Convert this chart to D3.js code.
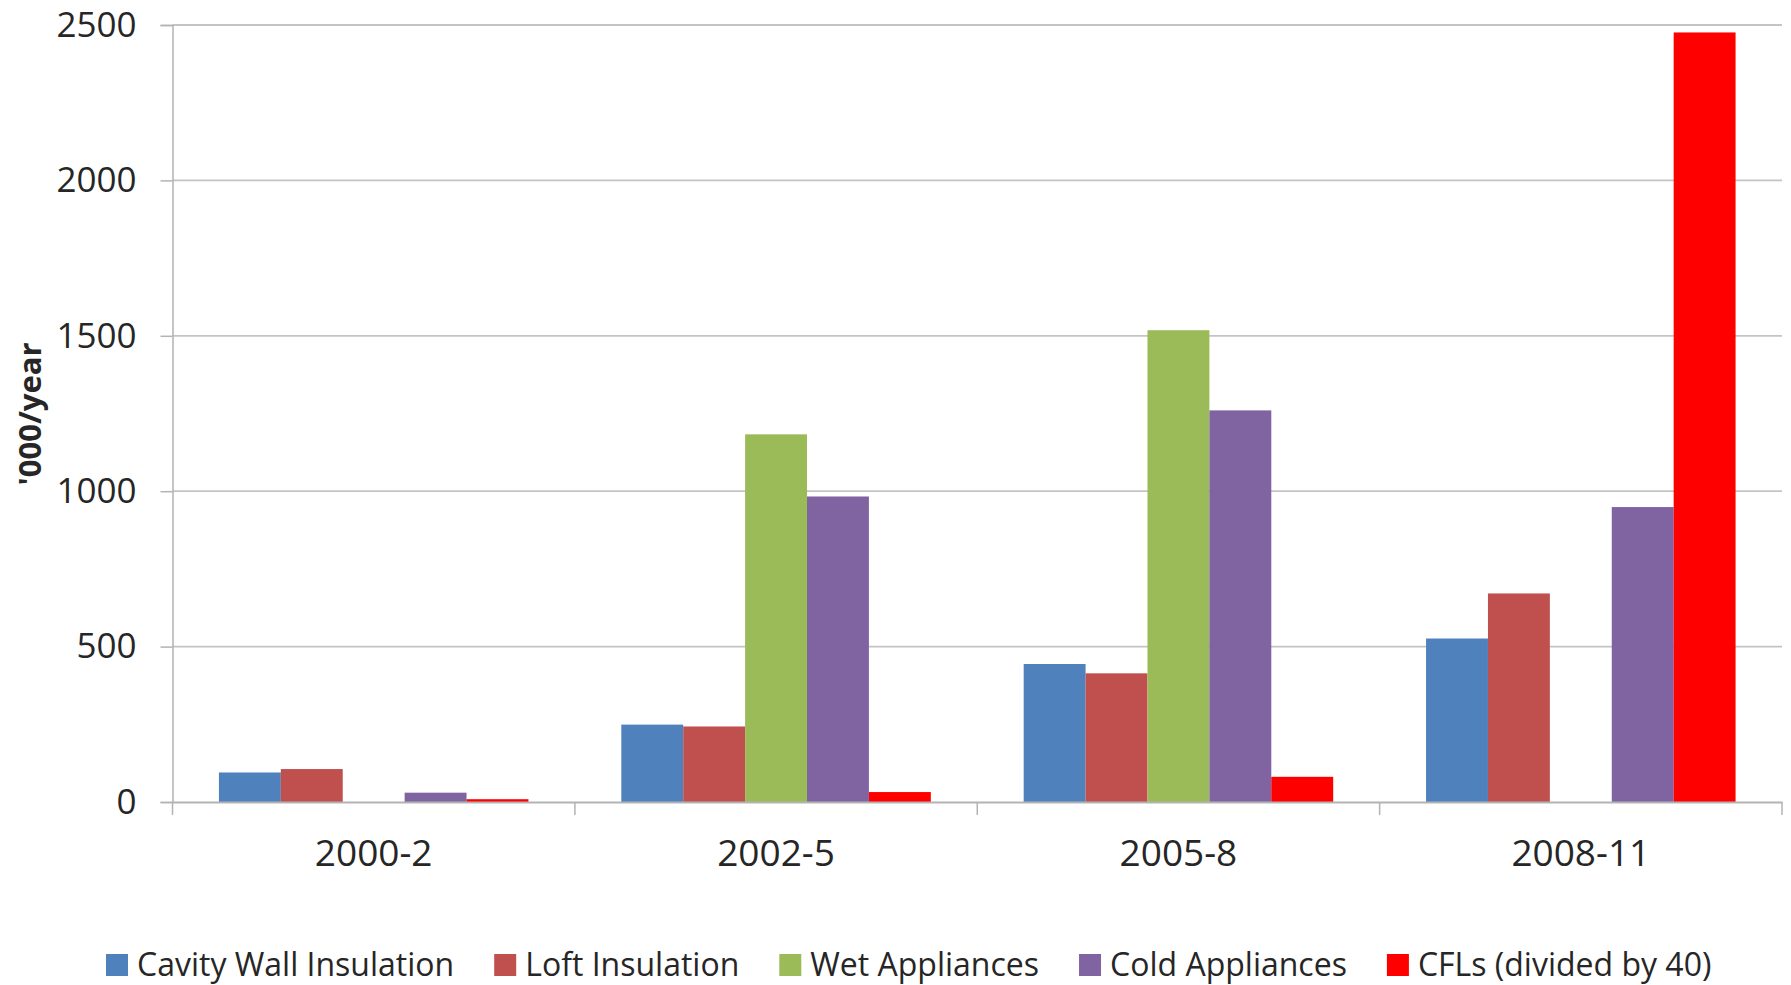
<!DOCTYPE html>
<html>
<head>
    <script type="text/javascript" src="https://cdn.jsdelivr.net/npm/d3@7"></script>
    <style>
        body { margin: 0; background: #fff; }
        text { font-family: "Open Sans", sans-serif; fill: #262626; }
    </style>
</head>
<body>
    <div id="chart"></div>

    <script type="text/javascript">
    var categories = ["2000-2", "2002-5", "2005-8", "2008-11"];
    var seriesNames = ["Cavity Wall Insulation", "Loft Insulation", "Wet Appliances", "Cold Appliances", "CFLs (divided by 40)"];
    var seriesColors = ["#4F81BD", "#C0504D", "#9BBB59", "#8064A2", "#FF0000"];
    var cavityWall = [95, 249, 444, 526];
    var loft = [106, 243, 414, 671];
    var wetAppliances = [0, 1183, 1518, 0];
    var coldAppliances = [30, 983, 1260, 949];
    var cfls = [9, 32, 81, 2476];
    var yTicks = [0, 500, 1000, 1500, 2000, 2500];

    var allSeries = [cavityWall, loft, wetAppliances, coldAppliances, cfls];

    var width = 1791, height = 985;
    var plotLeft = 172.5, plotRight = 1782, plotTop = 25, plotBottom = 802;

    var svg = d3.select("#chart")
        .append("svg")
        .attr("width", width)
        .attr("height", height);

    var x0 = d3.scaleBand().domain(categories).range([plotLeft, plotRight]).paddingInner(0).paddingOuter(0);
    // gap width 150% -> 5 bars + 1.5 bar of gap per category
    var bw = x0.bandwidth() / 6.5;
    var x1 = d3.scaleBand().domain(d3.range(seriesNames.length))
        .range([0.75 * bw, x0.bandwidth() - 0.75 * bw]).padding(0);
    var y = d3.scaleLinear().domain([0, 2500]).range([plotBottom, plotTop]);

    // gridlines
    svg.append("g").selectAll("line")
        .data(yTicks.filter(function(d){ return d > 0; }))
        .enter().append("line")
        .attr("x1", plotLeft).attr("x2", plotRight)
        .attr("y1", function(d){ return y(d); }).attr("y2", function(d){ return y(d); })
        .attr("stroke", "#c4c4c4").attr("stroke-width", 1.8);

    // y axis
    var yAxis = svg.append("g").attr("transform", "translate(" + plotLeft + ",0)")
        .call(d3.axisLeft(y).tickValues(yTicks).tickSize(12).tickPadding(24).tickFormat(d3.format("d")));
    yAxis.select(".domain").attr("stroke", "#b3b3b3").attr("stroke-width", 1.5);
    yAxis.selectAll(".tick line").attr("stroke", "#b3b3b3").attr("stroke-width", 1.5);
    yAxis.selectAll(".tick text").style("font-size", "35px").attr("fill", "#262626");

    // bars
    var groups = svg.append("g").selectAll("g")
        .data(categories)
        .enter().append("g")
        .attr("transform", function(d){ return "translate(" + x0(d) + ",0)"; });

    groups.selectAll("rect")
        .data(function(d, i){ return allSeries.map(function(s, k){ return {k: k, v: s[i]}; }); })
        .enter().append("rect")
        .attr("x", function(d){ return x1(d.k); })
        .attr("width", x1.bandwidth())
        .attr("y", function(d){ return y(d.v); })
        .attr("height", function(d){ return plotBottom - y(d.v); })
        .attr("fill", function(d){ return seriesColors[d.k]; });

    // x axis
    var xAxis = svg.append("g").attr("transform", "translate(0," + plotBottom + ")")
        .call(d3.axisBottom(x0).tickSize(0).tickPadding(38));
    xAxis.select(".domain").attr("stroke", "#b3b3b3").attr("stroke-width", 1.8);
    xAxis.selectAll(".tick text").style("font-size", "37px").attr("fill", "#262626");

    svg.append("g").selectAll("line")
        .data(d3.range(categories.length + 1))
        .enter().append("line")
        .attr("x1", function(i){ return plotLeft + i * x0.step(); })
        .attr("x2", function(i){ return plotLeft + i * x0.step(); })
        .attr("y1", plotBottom).attr("y2", plotBottom + 13)
        .attr("stroke", "#b3b3b3").attr("stroke-width", 1.5);

    // y title
    svg.append("text")
        .attr("transform", "translate(41,414) rotate(-90)")
        .attr("text-anchor", "middle")
        .style("font-size", "31px")
        .style("font-weight", "bold")
        .text("'000/year");

    // legend
    var legend = svg.append("g").attr("transform", "translate(0,965)");
    var lx = 106;
    seriesNames.forEach(function(name, i) {
        legend.append("rect")
            .attr("x", lx).attr("y", -11)
            .attr("width", 22).attr("height", 22)
            .attr("fill", seriesColors[i]);
        var t = legend.append("text")
            .attr("x", lx + 31).attr("y", 11)
            .style("font-size", "32px")
            .text(name);
        lx += 31 + t.node().getComputedTextLength() + 40;
    });
    </script>
</body>
</html>
